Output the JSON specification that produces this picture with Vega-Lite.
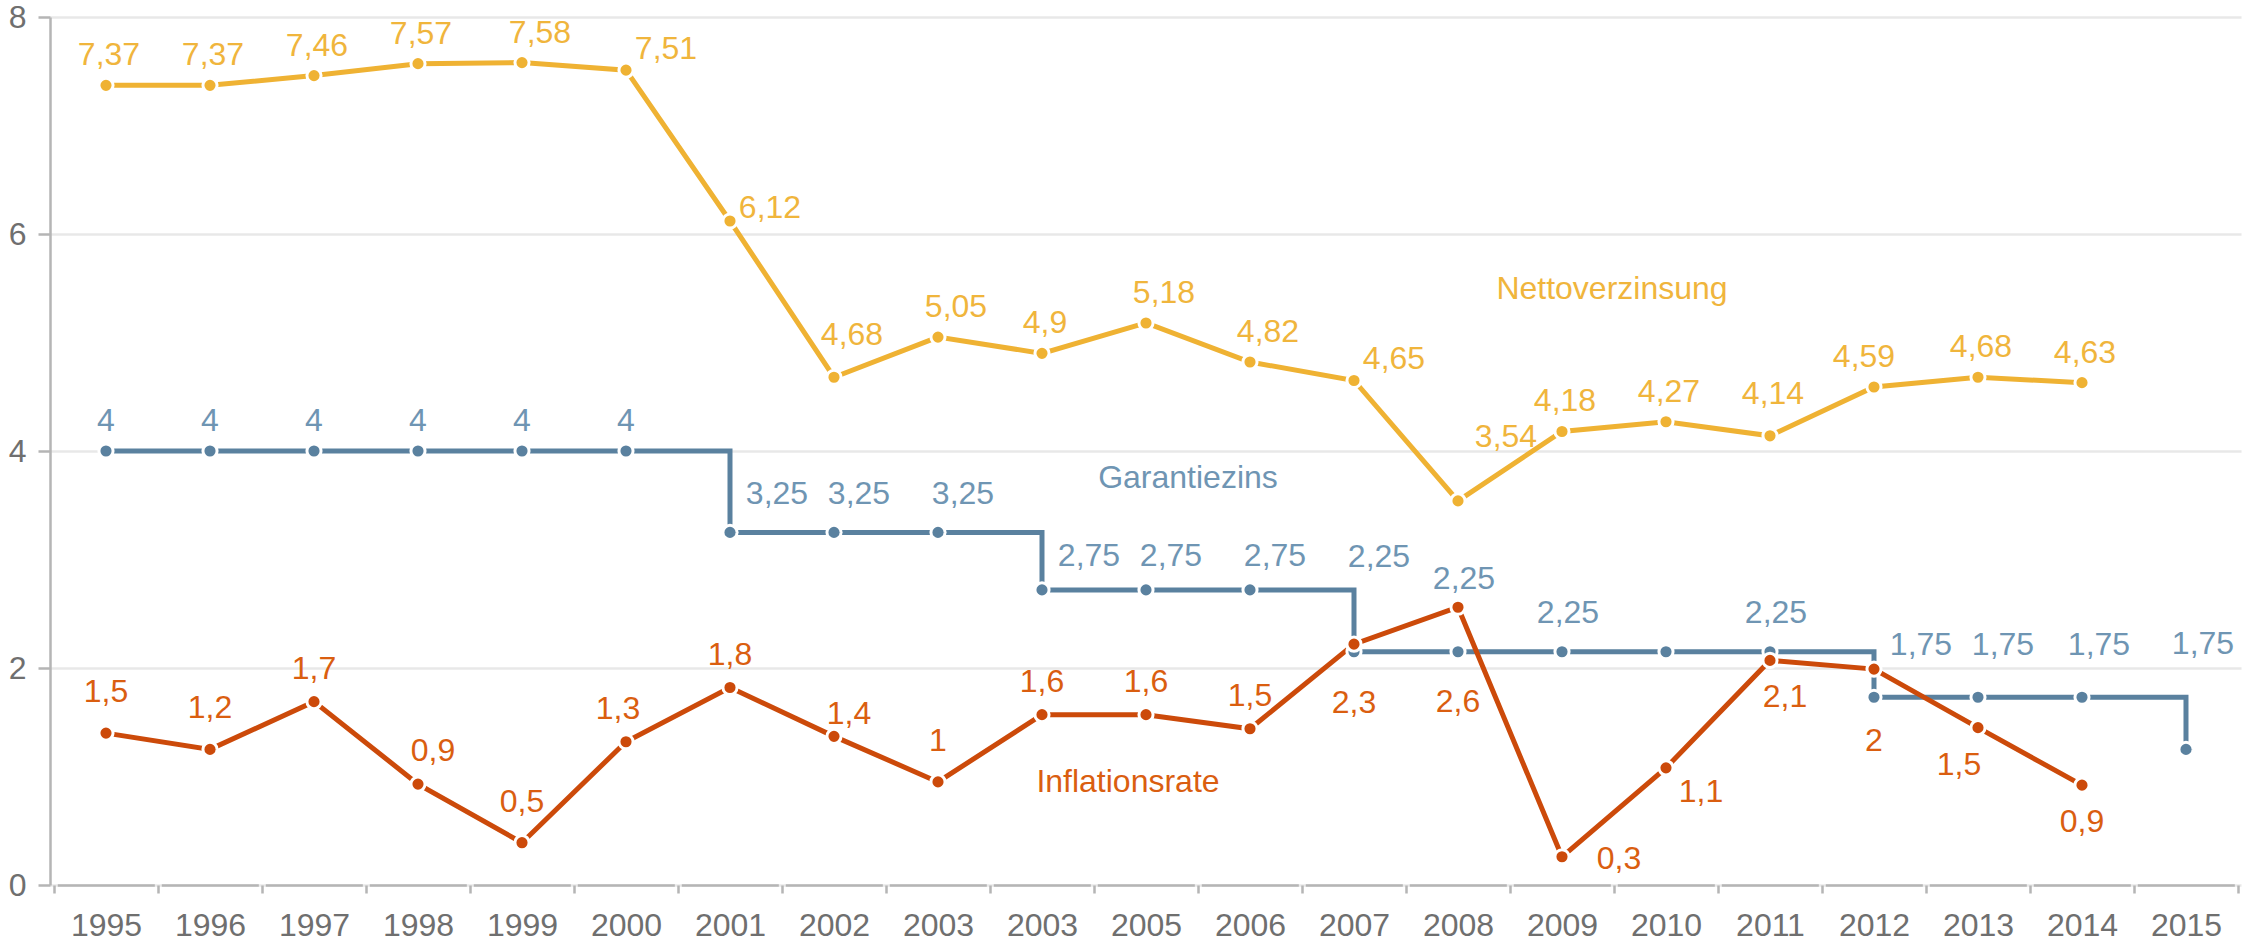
{
  "$schema": "https://vega.github.io/schema/vega-lite/v6.json",
  "width": 2191,
  "height": 868,
  "autosize": {"type": "none"},
  "padding": {"left": 54, "top": 17, "right": 0, "bottom": 60},
  "background": "white",
  "config": {
    "view": {"stroke": null},
    "font": "Liberation Sans",
    "axisY": {
      "tickCount": 4,
      "offset": 4,
      "domainColor": "#b5b5b5",
      "domainWidth": 2.5,
      "tickColor": "#b5b5b5",
      "tickWidth": 2.5,
      "tickSize": 12,
      "labelFontSize": 32,
      "labelColor": "#6f6f6f",
      "labelPadding": 12,
      "gridColor": "#e8e8e8",
      "gridWidth": 2.5,
      "grid": true
    }
  },
  "data": {
    "values": [
      {"idx": 0, "jahr": "1995", "netto": 7.37, "nl": "7,37", "garantie": 4, "gl": "4", "infl": 1.40, "il": "1,5"},
      {"idx": 1, "jahr": "1996", "netto": 7.37, "nl": "7,37", "garantie": 4, "gl": "4", "infl": 1.25, "il": "1,2"},
      {"idx": 2, "jahr": "1997", "netto": 7.46, "nl": "7,46", "garantie": 4, "gl": "4", "infl": 1.69, "il": "1,7"},
      {"idx": 3, "jahr": "1998", "netto": 7.57, "nl": "7,57", "garantie": 4, "gl": "4", "infl": 0.93, "il": "0,9"},
      {"idx": 4, "jahr": "1999", "netto": 7.58, "nl": "7,58", "garantie": 4, "gl": "4", "infl": 0.39, "il": "0,5"},
      {"idx": 5, "jahr": "2000", "netto": 7.51, "nl": "7,51", "garantie": 4, "gl": "4", "infl": 1.32, "il": "1,3"},
      {"idx": 6, "jahr": "2001", "netto": 6.12, "nl": "6,12", "garantie": 3.25, "gl": "3,25", "infl": 1.82, "il": "1,8"},
      {"idx": 7, "jahr": "2002", "netto": 4.68, "nl": "4,68", "garantie": 3.25, "gl": "3,25", "infl": 1.37, "il": "1,4"},
      {"idx": 8, "jahr": "2003", "netto": 5.05, "nl": "5,05", "garantie": 3.25, "gl": "3,25", "infl": 0.95, "il": "1"},
      {"idx": 9, "jahr": "2003", "netto": 4.9, "nl": "4,9", "garantie": 2.72, "gl": "2,75", "infl": 1.57, "il": "1,6"},
      {"idx": 10, "jahr": "2005", "netto": 5.18, "nl": "5,18", "garantie": 2.72, "gl": "2,75", "infl": 1.57, "il": "1,6"},
      {"idx": 11, "jahr": "2006", "netto": 4.82, "nl": "4,82", "garantie": 2.72, "gl": "2,75", "infl": 1.44, "il": "1,5"},
      {"idx": 12, "jahr": "2007", "netto": 4.65, "nl": "4,65", "garantie": 2.15, "gl": "2,25", "infl": 2.22, "il": "2,3"},
      {"idx": 13, "jahr": "2008", "netto": 3.54, "nl": "3,54", "garantie": 2.15, "gl": "2,25", "infl": 2.56, "il": "2,6"},
      {"idx": 14, "jahr": "2009", "netto": 4.18, "nl": "4,18", "garantie": 2.15, "gl": "2,25", "infl": 0.26, "il": "0,3"},
      {"idx": 15, "jahr": "2010", "netto": 4.27, "nl": "4,27", "garantie": 2.15, "gl": null, "infl": 1.08, "il": "1,1"},
      {"idx": 16, "jahr": "2011", "netto": 4.14, "nl": "4,14", "garantie": 2.15, "gl": "2,25", "infl": 2.07, "il": "2,1"},
      {"idx": 17, "jahr": "2012", "netto": 4.59, "nl": "4,59", "garantie": 1.73, "gl": "1,75", "infl": 1.99, "il": "2"},
      {"idx": 18, "jahr": "2013", "netto": 4.68, "nl": "4,68", "garantie": 1.73, "gl": "1,75", "infl": 1.45, "il": "1,5"},
      {"idx": 19, "jahr": "2014", "netto": 4.63, "nl": "4,63", "garantie": 1.73, "gl": "1,75", "infl": 0.92, "il": "0,9"},
      {"idx": 20, "jahr": "2015", "netto": null, "nl": null, "garantie": 1.25, "gl": "1,75", "infl": null, "il": null}
    ]
  },
  "encoding": {
    "x": {
      "field": "idx",
      "type": "ordinal",
      "title": null,
      "scale": {"type": "band", "paddingInner": 0, "paddingOuter": 0.0337, "align": 0},
      "axis": {
        "labelAngle": 0,
        "labelExpr": "['1995','1996','1997','1998','1999','2000','2001','2002','2003','2003','2005','2006','2007','2008','2009','2010','2011','2012','2013','2014','2015'][datum.value]",
        "labelFontSize": 32,
        "labelColor": "#6f6f6f",
        "labelPadding": 17,
        "tickBand": "extent",
        "tickOffset": -3.7,
        "tickSize": 8,
        "tickWidth": 2.5,
        "tickColor": "#b5b5b5",
        "domainColor": "#b5b5b5",
        "domainWidth": 2.5,
        "domainDash": [97,7,97,7,97,7,97,7,97,7,97,7,97,7,97,7,97,7,97,7,97,7,97,7,97,7,97,7,97,7,97,7,97,7,97,7,97,7,97,7,97,7,97,600],
        "domainDashOffset": 100.7,
        "grid": false
      }
    }
  },
  "layer": [
    {
      "mark": {"type": "line", "interpolate": "step-after", "color": "#5A819F", "strokeWidth": 5},
      "encoding": {"y": {"field": "garantie", "type": "quantitative", "title": null, "scale": {"domain": [0, 8], "nice": false}}}
    },
    {
      "transform": [{"filter": "datum.netto != null"}],
      "mark": {"type": "line", "color": "#EFB233", "strokeWidth": 5},
      "encoding": {"y": {"field": "netto", "type": "quantitative", "title": null}}
    },
    {
      "transform": [{"filter": "datum.infl != null"}],
      "mark": {"type": "line", "color": "#CC4A0A", "strokeWidth": 5},
      "encoding": {"y": {"field": "infl", "type": "quantitative", "title": null}}
    },
    {
      "mark": {"type": "circle", "fill": "#5A819F", "fillOpacity": 1, "stroke": "white", "strokeWidth": 3, "size": 200},
      "encoding": {"y": {"field": "garantie", "type": "quantitative", "title": null}}
    },
    {
      "transform": [{"filter": "datum.netto != null"}],
      "mark": {"type": "circle", "fill": "#EFB233", "fillOpacity": 1, "stroke": "white", "strokeWidth": 3, "size": 200},
      "encoding": {"y": {"field": "netto", "type": "quantitative", "title": null}}
    },
    {
      "transform": [{"filter": "datum.infl != null"}],
      "mark": {"type": "circle", "fill": "#CC4A0A", "fillOpacity": 1, "stroke": "white", "strokeWidth": 3, "size": 200},
      "encoding": {"y": {"field": "infl", "type": "quantitative", "title": null}}
    },
    {
      "transform": [{"filter": "datum.nl != null"}],
      "mark": {
        "type": "text", "fontSize": 32, "color": "#F0B53C", "align": "center", "baseline": "middle",
        "dx": {"expr": "indexof([5,6,12],datum.idx)>=0 ? 40 : datum.idx==13 ? 48 : indexof([4,7,8,10,11],datum.idx)>=0 ? 18 : datum.idx==17 ? -10 : 3"},
        "dy": {"expr": "datum.idx==13 ? -64 : indexof([5,12],datum.idx)>=0 ? -21 : datum.idx==6 ? -13 : indexof([7,16],datum.idx)>=0 ? -42 : -30"}
      },
      "encoding": {"y": {"field": "netto", "type": "quantitative", "title": null}, "text": {"field": "nl"}}
    },
    {
      "transform": [{"filter": "datum.gl != null"}],
      "mark": {
        "type": "text", "fontSize": 32, "color": "#6F95B3", "align": "center", "baseline": "middle",
        "dx": {"expr": "indexof([6,9,17],datum.idx)>=0 ? 47 : indexof([7,8,10,11,12,18],datum.idx)>=0 ? 25 : indexof([19,20],datum.idx)>=0 ? 17 : datum.idx<6 ? 0 : 6"},
        "dy": {"expr": "datum.idx<6 ? -30 : datum.idx<9 ? -38 : datum.idx<12 ? -34 : datum.idx==12 ? -95 : datum.idx==13 ? -73 : datum.idx<17 ? -39 : datum.idx<20 ? -52 : -105"}
      },
      "encoding": {"y": {"field": "garantie", "type": "quantitative", "title": null}, "text": {"field": "gl"}}
    },
    {
      "transform": [{"filter": "datum.il != null"}],
      "mark": {
        "type": "text", "fontSize": 32, "color": "#DA5E10", "align": "center", "baseline": "middle",
        "dx": {"expr": "datum.idx==14 ? 57 : datum.idx==15 ? 35 : indexof([3,7,16],datum.idx)>=0 ? 15 : datum.idx==18 ? -19 : datum.idx==5 ? -8 : 0"},
        "dy": {"expr": "datum.idx<12 ? (indexof([0,1,4,8],datum.idx)>=0 ? -41 : datum.idx==7 ? -22 : -33) : datum.idx==12 ? 59 : datum.idx==13 ? 95 : datum.idx==14 ? 2 : datum.idx==15 ? 24 : datum.idx==17 ? 72 : 37"}
      },
      "encoding": {"y": {"field": "infl", "type": "quantitative", "title": null}, "text": {"field": "il"}}
    },
    {
      "data": {"values": [{"idx": 14, "v": 5.40, "t": "Nettoverzinsung"}]},
      "mark": {"type": "text", "fontSize": 32, "color": "#F0B53C", "align": "center", "baseline": "alphabetic", "dx": 50},
      "encoding": {"y": {"field": "v", "type": "quantitative", "title": null}, "text": {"field": "t"}}
    },
    {
      "data": {"values": [{"idx": 10, "v": 3.655, "t": "Garantiezins"}]},
      "mark": {"type": "text", "fontSize": 32, "color": "#6F95B3", "align": "center", "baseline": "alphabetic", "dx": 42},
      "encoding": {"y": {"field": "v", "type": "quantitative", "title": null}, "text": {"field": "t"}}
    },
    {
      "data": {"values": [{"idx": 10, "v": 0.86, "t": "Inflationsrate"}]},
      "mark": {"type": "text", "fontSize": 32, "color": "#DA5E10", "align": "center", "baseline": "alphabetic", "dx": -18},
      "encoding": {"y": {"field": "v", "type": "quantitative", "title": null}, "text": {"field": "t"}}
    }
  ]
}
